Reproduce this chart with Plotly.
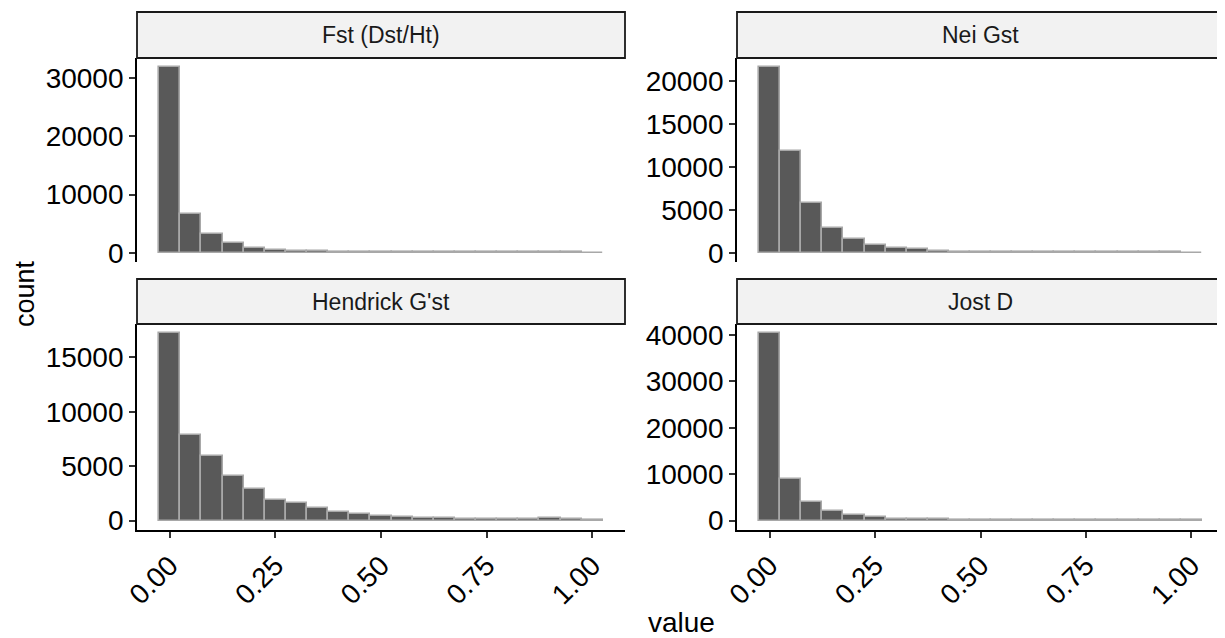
import plotly.graph_objects as go
from plotly.subplots import make_subplots

bin_centers = [round(0.05 * i, 2) for i in range(21)]
panel_titles = ["Fst (Dst/Ht)", "Nei Gst", "Hendrick G'st", "Jost D"]

fst_counts = [31900, 6600, 3200, 1600, 850, 520, 330, 220, 160, 120, 100,
              90, 80, 70, 80, 60, 50, 50, 40, 40, 20]
nei_counts = [21600, 11800, 5800, 2900, 1600, 900, 520, 380, 200, 130, 100,
              80, 70, 70, 60, 50, 50, 40, 40, 30, 20]
hendrick_counts = [17200, 7900, 5900, 4100, 2900, 1850, 1600, 1150, 780, 620, 460,
                   340, 240, 200, 150, 140, 120, 130, 250, 110, 70]
jost_counts = [40300, 9000, 3950, 2150, 1200, 780, 450, 320, 260, 200, 170,
               150, 230, 140, 120, 100, 90, 80, 70, 60, 40]

y_ticks = [
    [0, 10000, 20000, 30000],
    [0, 5000, 10000, 15000, 20000],
    [0, 5000, 10000, 15000],
    [0, 10000, 20000, 30000, 40000],
]
x_ticks = [0.0, 0.25, 0.5, 0.75, 1.0]
x_tick_labels = ["0.00", "0.25", "0.50", "0.75", "1.00"]

series = [fst_counts, nei_counts, hendrick_counts, jost_counts]

# page body has an 8px margin; figure is sized to end at the window edge
OFF = 8
W, H = 1225 - OFF, 638 - OFF
FONT = "Liberation Sans, Arial, Helvetica, sans-serif"

fig = make_subplots(rows=2, cols=2)

# panel geometry in window pixels
col_x = [(137, 625), (737, 1224)]
row_y = [(58, 262), (324, 530)]
strip_y = [(12, 58), (279, 324)]

def px_x(p):
    return (p - OFF) / W

def px_y(p):
    return 1 - (p - OFF) / H

for i, counts in enumerate(series):
    r, c = i // 2 + 1, i % 2 + 1
    fig.add_trace(
        go.Bar(
            x=bin_centers, y=counts, width=0.05,
            marker=dict(color="#595959", line=dict(color="#a8a8a8", width=1.6)),
            showlegend=False, hoverinfo="x+y",
        ),
        row=r, col=c,
    )
    ymax = max(counts)
    ax_suffix = "" if i == 0 else str(i + 1)
    xa = "xaxis" + ax_suffix
    ya = "yaxis" + ax_suffix
    x0, x1 = col_x[c - 1]
    y0, y1 = row_y[r - 1]
    bottom = r == 2
    fig.layout[xa].update(
        domain=[px_x(x0), px_x(x1)],
        range=[-0.0775, 1.0775],
        tickvals=x_ticks, ticktext=x_tick_labels,
        showticklabels=bottom,
        ticks="outside" if bottom else "",
        ticklen=6, tickwidth=1.6, tickcolor="#333333",
        showline=bottom, linecolor="black", linewidth=1.8,
        showgrid=False, zeroline=False, tickangle=-45,
        automargin=False,
        tickfont=dict(family=FONT, size=28, color="black"),
    )
    fig.layout[ya].update(
        domain=[px_y(y1), px_y(y0)],
        range=[-0.05 * ymax, 1.05 * ymax],
        tickvals=y_ticks[i], ticktext=[str(v) for v in y_ticks[i]],
        ticks="outside", ticklen=6, tickwidth=1.6, tickcolor="#333333",
        showline=True, linecolor="black", linewidth=1.8,
        showgrid=False, zeroline=False,
        automargin=False,
        tickfont=dict(family=FONT, size=28, color="black"),
    )
    sy0, sy1 = strip_y[r - 1]
    fig.add_shape(
        type="rect", xref="paper", yref="paper",
        x0=px_x(x0), x1=px_x(x1), y0=px_y(sy1), y1=px_y(sy0),
        fillcolor="#f2f2f2", line=dict(color="#1a1a1a", width=1.8),
    )
    fig.add_annotation(
        xref="paper", yref="paper",
        x=px_x((x0 + x1) / 2), y=px_y((sy0 + sy1) / 2),
        text=panel_titles[i], showarrow=False,
        font=dict(family=FONT, size=23, color="#1a1a1a"),
        xanchor="center", yanchor="middle",
    )

fig.add_annotation(
    xref="paper", yref="paper", x=px_x(681), y=px_y(622),
    text="value", showarrow=False, xanchor="center", yanchor="middle",
    font=dict(family=FONT, size=28, color="black"),
)
fig.add_annotation(
    xref="paper", yref="paper", x=px_x(25), y=px_y(294),
    text="count", showarrow=False, textangle=-90,
    xanchor="center", yanchor="middle",
    font=dict(family=FONT, size=27, color="black"),
)

fig.update_layout(
    template="none",
    width=W, height=H,
    margin=dict(l=0, r=0, t=0, b=0),
    paper_bgcolor="white", plot_bgcolor="white",
    bargap=0,
)

fig.write_html("out.html")
